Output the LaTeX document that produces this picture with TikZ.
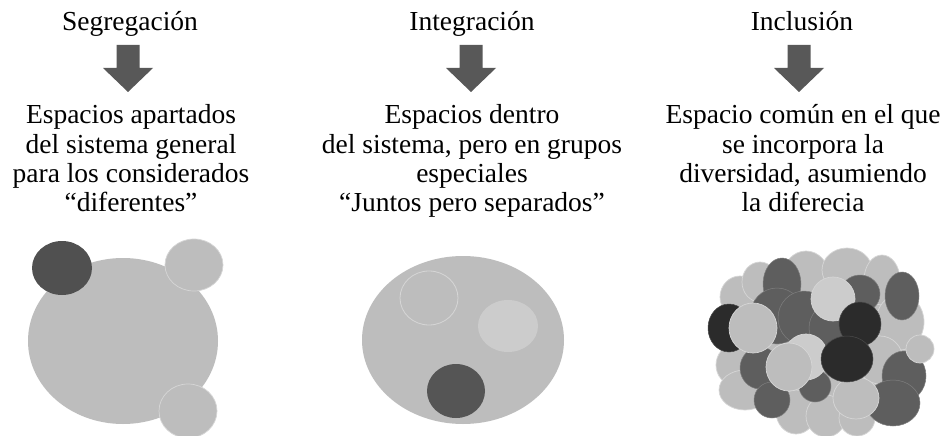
\documentclass[tikz,border=0pt]{standalone}
\usepackage{fontspec}
\setmainfont{Liberation Serif}
\definecolor{arrowc}{HTML}{585858}
\definecolor{midg}{HTML}{BDBDBD}
\definecolor{lightg}{HTML}{C6C6C6}
\definecolor{paleg}{HTML}{CCCCCC}
\definecolor{darkg}{HTML}{5E5E5E}
\definecolor{blackg}{HTML}{2B2B2B}
\definecolor{rimg}{HTML}{D6D6D6}
\tikzset{
  txt/.style={anchor=base, inner sep=0pt, font=\fontsize{27.5}{29}\selectfont},
  bL/.style={fill=midg, draw=rimg, line width=0.7pt},
  bP/.style={fill=paleg, draw=rimg, line width=0.7pt},
  bD/.style={fill=darkg, draw=darkg!80!white, line width=0.5pt},
  bK/.style={fill=blackg, draw=blackg!85!white, line width=0.5pt},
}
\newcommand\blockarrow[1]{%
  \fill[arrowc] ([xshift=-11.5pt]#1) -- ++(0pt,-23pt) -- ++(-13.5pt,0pt) -- ++(25pt,-24pt)
    -- ++(25pt,24pt) -- ++(-13.5pt,0pt) -- ++(0pt,23pt) -- cycle;}
\begin{document}
\begin{tikzpicture}[x=1pt,y=-1pt]
\fill[white] (0,0) rectangle (943,436);
\useasboundingbox (0,0) rectangle (943,436);
% ---------------- texts ----------------
\node[txt] (t1) at (130,31) {Segregación};
\node[txt] (t2) at (472,31) {Integración};
\node[txt] (t3) at (802,31) {Inclusión};
\node[txt] (a1) at (131,124) {Espacios apartados};
\node[txt] (a2) at (131,153) {del sistema general};
\node[txt] (a3) at (131,182) {para los considerados};
\node[txt] (a4) at (131,211) {“diferentes”};
\node[txt] (b1) at (472,124) {Espacios dentro};
\node[txt] (b2) at (472,153) {del sistema, pero en grupos};
\node[txt] (b3) at (472,182) {especiales};
\node[txt] (b4) at (472,211) {“Juntos pero separados”};
\node[txt] (c1) at (803,124) {Espacio común en el que};
\node[txt] (c2) at (803,153) {se incorpora la};
\node[txt] (c3) at (803,182) {diversidad, asumiendo};
\node[txt] (c4) at (803,211) {la diferecia};
% ---------------- arrows ----------------
\coordinate (ar1) at (128,45);
\coordinate (ar2) at (471,45);
\coordinate (ar3) at (799,45);
\blockarrow{ar1}
\blockarrow{ar2}
\blockarrow{ar3}
% ---------------- segregation ----------------
\fill[midg] (123,341) ellipse [x radius=95, y radius=83];
\fill[darkg!85!black] (62,268) ellipse [x radius=30, y radius=27];
\path[bL] (194,265) ellipse [x radius=29, y radius=26];
\path[bL] (188,411) ellipse [x radius=29, y radius=27];
% ---------------- integration ----------------
\fill[midg] (463,340) ellipse [x radius=101, y radius=84];
\draw[rimg, line width=0.8pt] (429,298) ellipse [x radius=29, y radius=27];
\fill[paleg] (508,326) ellipse [x radius=30, y radius=26];
\fill[darkg!90!black] (456,391) ellipse [x radius=29, y radius=27];
% ---------------- inclusion ----------------
\fill[midg] (822,345) ellipse [x radius=88, y radius=72];
% back light ring
\path[bL] (740,297) ellipse [x radius=20, y radius=21];
\path[bL] (760,282) ellipse [x radius=18, y radius=20];
\path[bL] (806,276) ellipse [x radius=23, y radius=25];
\path[bL] (847,270) ellipse [x radius=25, y radius=22];
\path[bL] (882,280) ellipse [x radius=18, y radius=25];
\path[bL] (900,322) ellipse [x radius=24, y radius=28];
\path[bL] (734,365) ellipse [x radius=18, y radius=20];
\path[bL] (745,390) ellipse [x radius=26, y radius=20];
\path[bL] (796,412) ellipse [x radius=20, y radius=22];
\path[bL] (826,416) ellipse [x radius=20, y radius=21];
\path[bL] (857,418) ellipse [x radius=18, y radius=18];
\path[bL] (880,360) ellipse [x radius=23, y radius=24];
% darks
\path[bD] (782,284) ellipse [x radius=19, y radius=26];
\path[bD] (902,296) ellipse [x radius=17, y radius=24];
\path[bD] (777,316) ellipse [x radius=27, y radius=28];
\path[bD] (804,318) ellipse [x radius=26, y radius=27];
\path[bD] (833,328) ellipse [x radius=24, y radius=25];
\path[bD] (860,294) ellipse [x radius=20, y radius=19];
\path[bD] (760,368) ellipse [x radius=20, y radius=21];
\path[bD] (772,400) ellipse [x radius=18, y radius=18];
\path[bD] (815,386) ellipse [x radius=16, y radius=16];
\path[bD] (904,376) ellipse [x radius=22, y radius=25];
\path[bD] (893,403) ellipse [x radius=27, y radius=23];
% front lights
\path[bP] (833,299) ellipse [x radius=22, y radius=22];
\path[bP] (806,357) ellipse [x radius=22, y radius=23];
\path[bL] (789,367) ellipse [x radius=23, y radius=24];
\path[bL] (856,398) ellipse [x radius=23, y radius=21];
\path[bL] (920,349) ellipse [x radius=14, y radius=14];
% blacks
\path[bK] (729,328) ellipse [x radius=21, y radius=24];
\path[bL] (753,328) ellipse [x radius=24, y radius=25];
\path[bK] (860,324) ellipse [x radius=21, y radius=22];
\path[bK] (847,359) ellipse [x radius=26, y radius=23];
\end{tikzpicture}
\end{document}
